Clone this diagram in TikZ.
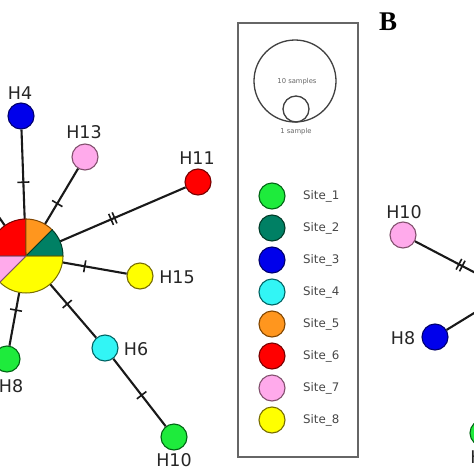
\documentclass[tikz,border=0pt]{standalone}
\usepackage{fontspec}
\setmainfont{DejaVu Sans}
\newfontfamily\serifbold{Liberation Serif}
\begin{document}
\begin{tikzpicture}[x=1pt,y=-1pt,
  hap/.style={circle,minimum size=26pt,inner sep=0pt,line width=1.1pt},
  legdot/.style={circle,minimum size=26pt,inner sep=0pt,line width=1.1pt},
  lbl/.style={inner sep=0pt,font=\fontsize{17.5}{18}\selectfont,text=black!85},
  leglbl/.style={inner sep=0pt,anchor=west,font=\fontsize{11.8}{12}\selectfont,text=black!72},
  edge/.style={line width=2.1pt,black!90},
  tickm/.style={sloped,inner sep=0pt},
  c1/.style={fill={rgb,255:red,30;green,235;blue,60},draw={rgb,255:red,0;green,100;blue,20}},
  c2/.style={fill={rgb,255:red,0;green,128;blue,100},draw={rgb,255:red,0;green,60;blue,40}},
  c3/.style={fill={rgb,255:red,0;green,0;blue,235},draw={rgb,255:red,0;green,0;blue,110}},
  c4/.style={fill={rgb,255:red,50;green,245;blue,245},draw={rgb,255:red,0;green,100;blue,100}},
  c5/.style={fill={rgb,255:red,255;green,150;blue,30},draw={rgb,255:red,130;green,70;blue,0}},
  c6/.style={fill={rgb,255:red,255;green,0;blue,0},draw={rgb,255:red,120;green,0;blue,0}},
  c7/.style={fill={rgb,255:red,255;green,170;blue,235},draw={rgb,255:red,130;green,80;blue,110}},
  c8/.style={fill={rgb,255:red,255;green,255;blue,0},draw={rgb,255:red,120;green,110;blue,0}}
]
\newcommand{\onetick}{\rule[-6pt]{1.6pt}{12pt}}
\newcommand{\twotick}{\rule[-6pt]{1.6pt}{12pt}\hspace{2.2pt}\rule[-6pt]{1.6pt}{12pt}}
\useasboundingbox (0,0) rectangle (474,474);
\clip (0,0) rectangle (474,474);
\fill[white] (0,0) rectangle (474,474);

% ---------- network A ----------
\node[circle,minimum size=74pt,inner sep=0pt] (pie) at (26,256) {};
\node[hap,c3] (h4) at (21,116) {};
\node[hap,c7] (h13) at (85,157) {};
\node[hap,c6] (h11) at (198,182) {};
\node[hap,c8] (h15) at (140,276) {};
\node[hap,c1] (h8) at (7,359) {};
\node[hap,c4] (h6) at (105,348) {};
\node[hap,c1] (h10) at (174,437) {};
\coordinate (offA) at (-31,174);

\draw[edge] (pie) -- (h4) node[tickm,pos=0.41]{\onetick};
\draw[edge] (pie) -- (h13) node[tickm,pos=0.37]{\onetick};
\draw[edge] (pie) -- (h11) node[tickm,pos=0.42]{\twotick};
\draw[edge] (pie) -- (h15) node[tickm,pos=0.345]{\onetick};
\draw[edge] (pie) -- (h8) node[tickm,pos=0.33]{\onetick};
\draw[edge] (pie) -- (h6) node[tickm,pos=0.37]{\onetick};
\draw[edge] (h6) -- (h10) node[tickm,pos=0.54]{\onetick};
\draw[edge] (pie) -- (offA);

% pie slices
\begin{scope}[shift={(pie.center)},line width=1pt]
  \filldraw[c6] (0,0) -- (0,-37) arc[start angle=-90,end angle=-180,radius=37] -- cycle;
  \filldraw[c5] (0,0) -- (26.16,-26.16) arc[start angle=-45,end angle=-90,radius=37] -- cycle;
  \filldraw[c2] (0,0) -- (37,0) arc[start angle=0,end angle=-45,radius=37] -- cycle;
  \filldraw[c8] (0,0) -- (37,0) arc[start angle=0,end angle=135,radius=37] -- cycle;
  \filldraw[c7] (0,0) -- (-37,0) arc[start angle=180,end angle=135,radius=37] -- cycle;
\end{scope}

\node[lbl] (lh4) at (20,93) {H4};
\node[lbl] (lh13) at (84,132) {H13};
\node[lbl] (lh11) at (197,158) {H11};
\node[lbl] (lh15) at (177,277) {H15};
\node[lbl] (lh6) at (136,349) {H6};
\node[lbl] (lh8) at (11,386) {H8};
\node[lbl] (lh10) at (174,460) {H10};

% ---------- legend ----------
\node[draw=black!60,line width=1.4pt,minimum width=120pt,minimum height=434pt,inner sep=0pt] (legend) at (298,240) {};
\node[circle,draw=black!75,line width=1.3pt,minimum size=82pt,inner sep=0pt] (big) at (295,81) {};
\node[circle,draw=black!75,line width=1.3pt,minimum size=26pt,inner sep=0pt] (small) at (296,109) {};
\node[inner sep=0pt,font=\fontsize{6.8}{7}\selectfont,text=black!60] (t10) at (297,82) {10 samples};
\node[inner sep=0pt,font=\fontsize{6.8}{7}\selectfont,text=black!60] (t1) at (296,132) {1 sample};

\node[legdot,c1] (s1) at (272,196) {};
\node[legdot,c2] (s2) at (272,228) {};
\node[legdot,c3] (s3) at (272,260) {};
\node[legdot,c4] (s4) at (272,292) {};
\node[legdot,c5] (s5) at (272,324) {};
\node[legdot,c6] (s6) at (272,356) {};
\node[legdot,c7] (s7) at (272,388) {};
\node[legdot,c8] (s8) at (272,420) {};
\node[leglbl] (l1) at (303,196) {Site\_1};
\node[leglbl] (l2) at (303,228) {Site\_2};
\node[leglbl] (l3) at (303,260) {Site\_3};
\node[leglbl] (l4) at (303,292) {Site\_4};
\node[leglbl] (l5) at (303,324) {Site\_5};
\node[leglbl] (l6) at (303,356) {Site\_6};
\node[leglbl] (l7) at (303,388) {Site\_7};
\node[leglbl] (l8) at (303,420) {Site\_8};

% ---------- network B ----------
\node[inner sep=0pt,font=\serifbold\bfseries\fontsize{27}{28}\selectfont] (B) at (388,22) {B};
\coordinate (hubB) at (510,291);
\node[hap,c7] (b10) at (403,235) {};
\node[hap,c3] (b8) at (435,337) {};
\node[hap,c1] (b12) at (483,433) {};
\draw[edge] (b10) -- (hubB) node[tickm,pos=0.48]{\twotick};
\draw[edge] (b8) -- (hubB);
\node[lbl] (lb10) at (404,212) {H10};
\node[lbl] (lb8) at (403,338) {H8};
\node[lbl] (lb12) at (488,457) {H12};
\end{tikzpicture}
\end{document}
